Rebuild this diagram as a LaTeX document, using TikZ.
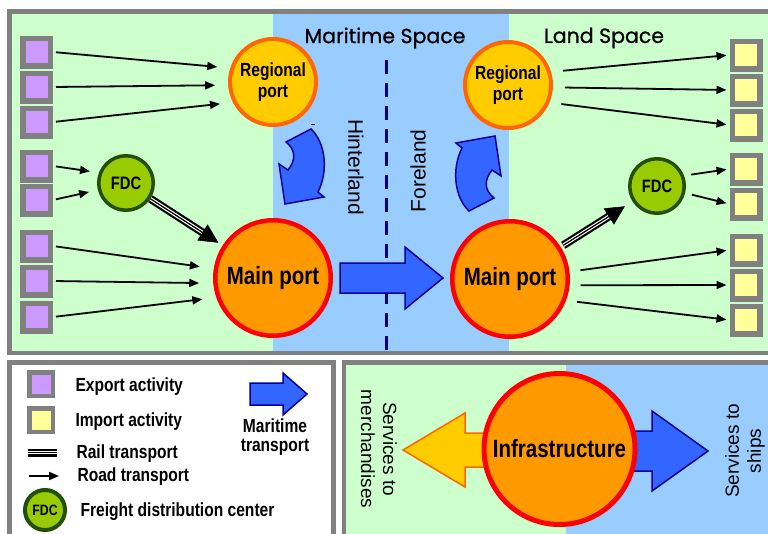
\documentclass[tikz,border=0pt]{standalone}
\usepackage{fontspec}
\setmainfont{Liberation Sans}
\newfontfamily\narrowfont[FakeStretch=0.82]{Liberation Sans}
\newfontfamily\gothicfont[FakeBold=0.8]{Poppins}
\usepackage{tikz}
\usetikzlibrary{arrows.meta}
\definecolor{landgreen}{HTML}{CCFFCC}
\definecolor{seablue}{HTML}{99CCFF}
\definecolor{framegray}{HTML}{808080}
\definecolor{exportlilac}{HTML}{CC99FF}
\definecolor{importyellow}{HTML}{FFFF99}
\definecolor{portyellow}{HTML}{FFCC00}
\definecolor{portorange}{HTML}{FF6600}
\definecolor{mainorange}{HTML}{FF9900}
\definecolor{fdcgreen}{HTML}{99CC00}
\definecolor{fdcdark}{HTML}{224F00}
\definecolor{shipblue}{HTML}{3366FF}
\definecolor{shipnavy}{HTML}{000099}
\definecolor{linenavy}{HTML}{000080}

\begin{document}
\begin{tikzpicture}[
    x=1pt,
    y=-1pt,
    expbox/.style={rectangle, draw=framegray, fill=exportlilac, line width=5.5pt, minimum size=27.5pt, inner sep=0pt},
    impbox/.style={expbox, fill=importyellow},
    regport/.style={circle, draw=portorange, fill=portyellow, line width=4pt, minimum size=86pt, inner sep=0pt, align=center, font=\narrowfont\bfseries\fontsize{19}{21}\selectfont},
    mainport/.style={circle, draw=red, fill=mainorange, line width=4.5pt, minimum size=115.5pt, inner sep=0pt, font=\narrowfont\bfseries\fontsize{25}{28}\selectfont},
    fdc/.style={circle, draw=fdcdark, fill=fdcgreen, line width=3.5pt, minimum size=54.5pt, inner sep=0pt, font=\narrowfont\bfseries\fontsize{18}{20}\selectfont},
    road/.style={-{Triangle[length=10pt,width=8pt]}, line width=1.8pt},
    rail/.style={draw=white, line width=3.6pt, preaction={draw=black, line width=8pt}, postaction={draw=black, line width=1.2pt}},
    railhead/.style={-{Triangle[length=19pt,width=19pt]}, line width=0.5pt},
    seaarrow/.style={draw=shipnavy, fill=shipblue, line width=1.5pt, line join=miter},
    space/.style={font=\gothicfont\fontsize{20.5}{22}\selectfont},
    side/.style={font=\fontsize{21}{24}\selectfont},
    legend/.style={anchor=base west, font=\narrowfont\bfseries\fontsize{19}{19}\selectfont},
    service/.style={align=center, font=\fontsize{19}{22}\selectfont}
  ]
    \useasboundingbox (0,0) rectangle (768,533);
    \clip (0,0) rectangle (768,533);
    \fill[white] (0,0) rectangle (768,533);

    \fill[landgreen] (9.5,11.5) rectangle (772,353);
    \fill[seablue] (273,11.5) rectangle (509,353);
    \draw[framegray, line width=4.5pt] (9.5,11.5) rectangle (772,353);
    \draw[framegray, line width=4.5pt, fill=white] (9.5,362.5) rectangle (333.5,545);
    \fill[landgreen] (344,362.5) rectangle (772,545);
    \fill[seablue] (566,362.5) rectangle (772,545);
    \draw[framegray, line width=4.5pt] (344,362.5) rectangle (772,545);

    \draw[linenavy, line width=3pt, dash pattern=on 14pt off 9pt] (386,60) -- (386,351);
    \draw[line width=1pt] (311,124.5) -- (315,124.5);

    \node[space] (maritime) at (385,38) {Maritime Space};
    \node[space] (land) at (604,38) {Land Space};
    \node[side, rotate=-90] (hinter) at (356,167) {Hinterland};
    \node[side, rotate=90] (fore) at (418,171) {Foreland};

    \node[expbox] (exp1) at (36.5,52) {};
    \node[expbox] (exp2) at (36.5,87) {};
    \node[expbox] (exp3) at (36.5,122) {};
    \node[expbox] (exp4) at (36.5,166) {};
    \node[expbox] (exp5) at (36.5,200) {};
    \node[expbox] (exp6) at (36.5,246) {};
    \node[expbox] (exp7) at (36.5,281) {};
    \node[expbox] (exp8) at (36.5,317) {};
    \node[impbox] (imp1) at (746,55) {};
    \node[impbox] (imp2) at (746,90) {};
    \node[impbox] (imp3) at (746,125) {};
    \node[impbox] (imp4) at (746,169) {};
    \node[impbox] (imp5) at (746,204) {};
    \node[impbox] (imp6) at (746,250) {};
    \node[impbox] (imp7) at (746,285) {};
    \node[impbox] (imp8) at (746,320) {};

    \node[regport] (regL) at (273,82) {Regional\\port};
    \node[regport] (regR) at (508,85) {Regional\\port};
    \node[mainport] (mainL) at (273,278) {Main port};
    \node[mainport] (mainR) at (510,279) {Main port};
    \node[fdc] (fdcL) at (126,183) {FDC};
    \node[fdc] (fdcR) at (657,186) {FDC};

    \draw[seaarrow] (340,263) -- (405,263) -- (405,247) -- (443,278) -- (405,309) -- (405,293) -- (340,293) -- cycle;
    \draw[seaarrow] (469,211) .. controls (455,198) and (451,170) .. (462,148) -- (456,143) -- (495,136) -- (501,176) -- (492,170) .. controls (484,180) and (484,190) .. (494,198) -- cycle;
    \draw[seaarrow, rotate around={180:(390,170)}] (469,211) .. controls (455,198) and (451,170) .. (462,148) -- (456,143) -- (495,136) -- (501,176) -- (492,170) .. controls (484,180) and (484,190) .. (494,198) -- cycle;

    \draw[road, shorten <=3pt, shorten >=13pt] (exp1.east) -- (regL.162);
    \draw[road, shorten <=3pt, shorten >=13pt] (exp2.east) -- (regL.184);
    \draw[road, shorten <=3pt, shorten >=13pt] (exp3.east) -- (regL.207);
    \draw[road, shorten <=3pt, shorten >=9pt] (exp4.east) -- (fdcL.159);
    \draw[road, shorten <=3pt, shorten >=9pt] (exp5.east) -- (fdcL.194);
    \draw[road, shorten <=3pt, shorten >=14pt] (exp6.east) -- (mainL.171);
    \draw[road, shorten <=3pt, shorten >=14pt] (exp7.east) -- (mainL.185);
    \draw[road, shorten <=3pt, shorten >=14pt] (exp8.east) -- (mainL.199);
    \draw[rail, shorten >=22pt] (fdcL) -- (mainL);
    \draw[railhead, shorten >=5pt] (fdcL) -- (mainL);

    \draw[road, shorten <=12pt, shorten >=3pt] (regR.17) -- (imp1.west);
    \draw[road, shorten <=12pt, shorten >=3pt] (regR.-3) -- (imp2.west);
    \draw[road, shorten <=12pt, shorten >=3pt] (regR.-23) -- (imp3.west);
    \draw[road, shorten <=7pt, shorten >=3pt] (fdcR.21) -- (imp4.west);
    \draw[road, shorten <=7pt, shorten >=3pt] (fdcR.-14) -- (imp5.west);
    \draw[road, shorten <=11pt, shorten >=3pt] (mainR.7) -- (imp6.west);
    \draw[road, shorten <=11pt, shorten >=3pt] (mainR.-6) -- (imp7.west);
    \draw[road, shorten <=11pt, shorten >=3pt] (mainR.-21) -- (imp8.west);
    \draw[rail, shorten <=3pt, shorten >=26pt] (mainR) -- (fdcR);
    \draw[railhead, shorten <=3pt, shorten >=9pt] (mainR) -- (fdcR);

    \node[expbox, line width=4.5pt, minimum size=23.5pt] (legexp) at (41,384) {};
    \node[impbox, line width=4.5pt, minimum size=23.5pt] (legimp) at (41,420) {};
    \coordinate (railA) at (28,452.5);
    \coordinate (railB) at (57,452.5);
    \draw[rail] (railA) -- (railB);
    \coordinate (roadA) at (29,476);
    \coordinate (roadB) at (59,476);
    \draw[road] (roadA) -- (roadB);
    \node[fdc, line width=4pt, minimum size=40pt, font=\narrowfont\bfseries\fontsize{15}{17}\selectfont] (legfdc) at (45,510) {FDC};
    \node[legend] (legexptext) at (72,391.5) {Export activity};
    \node[legend] (legimptext) at (72,426) {Import activity};
    \node[legend] (legrailtext) at (73,458) {Rail transport};
    \node[legend] (legroadtext) at (74,481) {Road transport};
    \node[legend] (legfdctext) at (77,516.5) {Freight distribution center};
    \draw[seaarrow] (250,383) -- (283,383) -- (283,373) -- (307,394) -- (283,415) -- (283,405) -- (250,405) -- cycle;
    \node[legend, anchor=center, align=center] (legsea) at (275,437) {Maritime\\transport};

    \draw[seaarrow, draw=portorange, fill=portyellow] (500,433) -- (465,433) -- (465,413) -- (403,450) -- (465,487) -- (465,467) -- (500,467) -- cycle;
    \draw[seaarrow] (620,431) -- (652,431) -- (652,411) -- (708,451) -- (652,491) -- (652,471) -- (620,471) -- cycle;
    \node[mainport, line width=5pt, minimum size=151pt] (infra) at (559.5,449) {Infrastructure};
    \node[service, rotate=-90] (merch) at (379,449) {Services to\\merchandises};
    \node[service, rotate=90] (ships) at (745,451) {Services to\\ships};
  \end{tikzpicture}
\end{document}
